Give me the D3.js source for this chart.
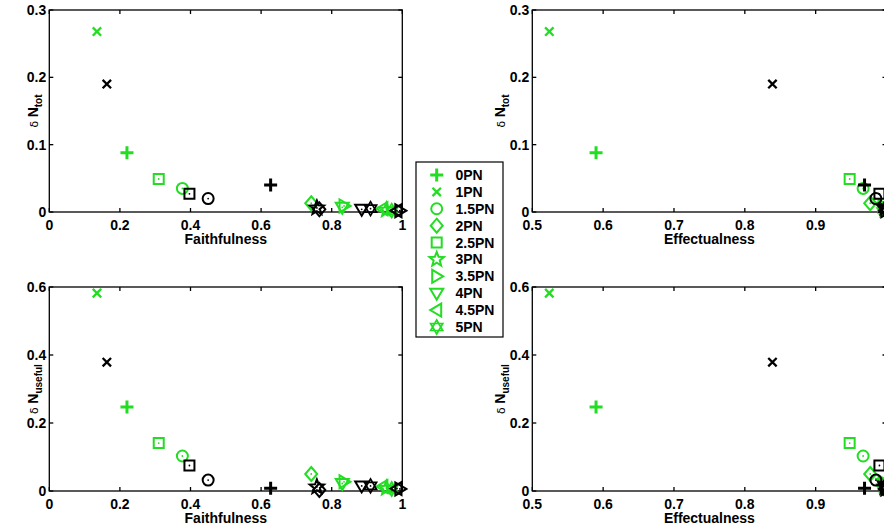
<!DOCTYPE html>
<html><head><meta charset="utf-8">
<script src="https://cdn.jsdelivr.net/npm/d3@7"></script>
<style>
body{margin:0;background:#fff;}
svg{display:block;}
text{font-family:"Liberation Sans",Arial,Helvetica,sans-serif;font-weight:bold;fill:#000;}
</style></head>
<body>
<svg id="c" width="884" height="529"></svg>
<script>
// ---------- data ----------
const seriesNames = ["0PN","1PN","1.5PN","2PN","2.5PN","3PN","3.5PN","4PN","4.5PN","5PN"];
const markerTypes = ["plus","x","circle","diamond","square","pentagram","triRight","triDown","triLeft","hexagram"];

const faithGreen   = [0.220,0.135,0.377,0.742,0.310,0.955,0.835,0.830,0.945,0.970];
const faithBlack   = [0.627,0.163,0.450,0.765,0.397,0.758,0.993,0.885,0.985,0.910];
const effectGreen  = [0.590,0.524,0.967,0.977,0.948,0.998,0.995,0.995,0.997,0.999];
const effectBlack  = [0.969,0.839,0.985,0.999,0.990,0.998,0.999,0.997,0.999,0.998];
const totGreen     = [0.088,0.268,0.035,0.013,0.049,0.003,0.009,0.007,0.005,0.002];
const totBlack     = [0.040,0.190,0.020,0.004,0.027,0.006,0.002,0.004,0.002,0.005];
const usefulGreen  = [0.247,0.582,0.103,0.050,0.141,0.008,0.027,0.022,0.013,0.006];
const usefulBlack  = [0.008,0.379,0.032,0.003,0.075,0.012,0.006,0.015,0.007,0.015];

const xTicksFaith  = [0,0.2,0.4,0.6,0.8,1];
const xTicksEffect = [0.5,0.6,0.7,0.8,0.9];
const yTicksTot    = [0,0.1,0.2,0.3];
const yTicksUseful = [0,0.2,0.4,0.6];

const GREEN = "#22dd22";
const BLACK = "#000000";
const FS = 14;

// ---------- marker shapes ----------
function star(n, ro, ri){
  let p=[];
  for(let i=0;i<2*n;i++){
    const r = i%2===0?ro:ri;
    const a = -Math.PI/2 + i*Math.PI/n;
    p.push([r*Math.cos(a), r*Math.sin(a)]);
  }
  return "M"+p.map(d=>d[0].toFixed(2)+","+d[1].toFixed(2)).join("L")+"Z";
}
function hexagram(ro){
  const t1=[],t2=[];
  for(let i=0;i<3;i++){
    const a1=-Math.PI/2+i*2*Math.PI/3, a2=Math.PI/2+i*2*Math.PI/3;
    t1.push([ro*Math.cos(a1),ro*Math.sin(a1)]);
    t2.push([ro*Math.cos(a2),ro*Math.sin(a2)]);
  }
  const f=p=>"M"+p.map(d=>d[0].toFixed(2)+","+d[1].toFixed(2)).join("L")+"Z";
  return f(t1)+f(t2);
}
const markerPath = {
  plus:"M-6.5,0H6.5M0,-6.5V6.5",
  x:"M-4.2,-4.2L4.2,4.2M-4.2,4.2L4.2,-4.2",
  circle:"M5.5,0A5.5,5.5 0 1,1 -5.5,0A5.5,5.5 0 1,1 5.5,0Z",
  diamond:"M0,-7L6,0L0,7L-6,0Z",
  square:"M-5,-5H5V5H-5Z",
  pentagram:star(5,7.5,3.2),
  triRight:"M6.5,0L-4.5,-6.5L-4.5,6.5Z",
  triDown:"M0,6.5L-6.5,-4.5L6.5,-4.5Z",
  triLeft:"M-6.5,0L4.5,-6.5L4.5,6.5Z",
  hexagram:hexagram(7)
};
const markerWidth = {plus:3,x:2.3,circle:2,diamond:2,square:2,pentagram:2,triRight:2,triDown:2,triLeft:2,hexagram:1.7};
const hasDot = {plus:false,x:false};

const svg = d3.select("#c");

function drawMarker(g, type, x, y, color, dot){
  g.append("path").attr("d", markerPath[type]).attr("transform",`translate(${x},${y})`)
    .attr("fill","none").attr("stroke",color).attr("stroke-width",markerWidth[type])
    .attr("stroke-linejoin","miter");
  if(dot && hasDot[type]!==false){
    g.append("circle").attr("cx",x).attr("cy",y).attr("r",0.9).attr("fill",color);
  }
}

function panel(opt){
  const x = d3.scaleLinear().domain(opt.xDomain).range([opt.x0, opt.x1]);
  const y = d3.scaleLinear().domain(opt.yDomain).range([opt.y0, opt.y1]);
  const g = svg.append("g");
  const tl = 4;
  g.append("rect").attr("x",opt.x0).attr("y",opt.y1).attr("width",opt.x1-opt.x0).attr("height",opt.y0-opt.y1)
    .attr("fill","none").attr("stroke","#000").attr("stroke-width",1.3);
  opt.xTicks.forEach(t=>{
    const px=x(t);
    g.append("line").attr("x1",px).attr("x2",px).attr("y1",opt.y0).attr("y2",opt.y0-tl).attr("stroke","#000").attr("stroke-width",1.3);
    g.append("line").attr("x1",px).attr("x2",px).attr("y1",opt.y1).attr("y2",opt.y1+tl).attr("stroke","#000").attr("stroke-width",1.3);
    g.append("text").attr("x",px).attr("y",opt.y0+18).attr("text-anchor","middle").attr("font-size",FS).text(d3.format("~g")(t));
  });
  opt.yTicks.forEach(t=>{
    const py=y(t);
    g.append("line").attr("x1",opt.x0).attr("x2",opt.x0+tl).attr("y1",py).attr("y2",py).attr("stroke","#000").attr("stroke-width",1.3);
    g.append("line").attr("x1",opt.x1).attr("x2",opt.x1-tl).attr("y1",py).attr("y2",py).attr("stroke","#000").attr("stroke-width",1.3);
    g.append("text").attr("x",opt.x0-3).attr("y",py).attr("dy","0.36em").attr("text-anchor","end").attr("font-size",FS).text(d3.format("~g")(t));
  });
  g.append("text").attr("x",opt.xlabelCx).attr("y",opt.y0+32)
    .attr("text-anchor","middle").attr("font-size",FS).text(opt.xLabel);
  const cy=(opt.y0+opt.y1)/2;
  const yl = g.append("text").attr("transform",`translate(${opt.ylabelX},${cy}) rotate(-90)`).attr("text-anchor","middle").attr("font-size",FS);
  yl.append("tspan").attr("font-weight","normal").attr("font-family","DejaVu Sans").attr("font-size",11).text("δ ");
  yl.append("tspan").text("N");
  yl.append("tspan").attr("font-size",10).attr("dy",4).text(opt.ySub);
  const mg = g.append("g");
  seriesNames.forEach((s,i)=>drawMarker(mg, markerTypes[i], x(opt.xg[i]), y(opt.yg[i]), GREEN, true));
  seriesNames.forEach((s,i)=>drawMarker(mg, markerTypes[i], x(opt.xb[i]), y(opt.yb[i]), BLACK, true));
}

panel({xDomain:[0,1],yDomain:[0,0.3],x0:49.3,x1:402.3,y0:212,y1:10,xTicks:xTicksFaith,yTicks:yTicksTot,xlabelCx:225.8,
  xLabel:"Faithfulness",ySub:"tot",ylabelX:38,xg:faithGreen,yg:totGreen,xb:faithBlack,yb:totBlack});
panel({xDomain:[0,1],yDomain:[0,0.6],x0:49.3,x1:402.3,y0:491,y1:287,xTicks:xTicksFaith,yTicks:yTicksUseful,xlabelCx:225.8,
  xLabel:"Faithfulness",ySub:"useful",ylabelX:38,xg:faithGreen,yg:usefulGreen,xb:faithBlack,yb:usefulBlack});
panel({xDomain:[0.5,1],yDomain:[0,0.3],x0:532.3,x1:886.5,y0:212,y1:10,xTicks:xTicksEffect,yTicks:yTicksTot,xlabelCx:709.4,
  xLabel:"Effectualness",ySub:"tot",ylabelX:505,xg:effectGreen,yg:totGreen,xb:effectBlack,yb:totBlack});
panel({xDomain:[0.5,1],yDomain:[0,0.6],x0:532.3,x1:886.5,y0:491,y1:287,xTicks:xTicksEffect,yTicks:yTicksUseful,xlabelCx:709.4,
  xLabel:"Effectualness",ySub:"useful",ylabelX:505,xg:effectGreen,yg:usefulGreen,xb:effectBlack,yb:usefulBlack});

// legend
const lg = svg.append("g");
lg.append("rect").attr("x",416).attr("y",162).attr("width",87).attr("height",175).attr("fill","#fff").attr("stroke","#000").attr("stroke-width",1.2);
const ly = d3.scaleLinear().domain([0, seriesNames.length-1]).range([175, 327]);
seriesNames.forEach((s,i)=>{
  drawMarker(lg, markerTypes[i], 436.7, ly(i), GREEN, false);
  lg.append("text").attr("x",455.5).attr("y",ly(i)).attr("dy","0.36em").attr("font-size",FS).text(s);
});
</script>
</body></html>
